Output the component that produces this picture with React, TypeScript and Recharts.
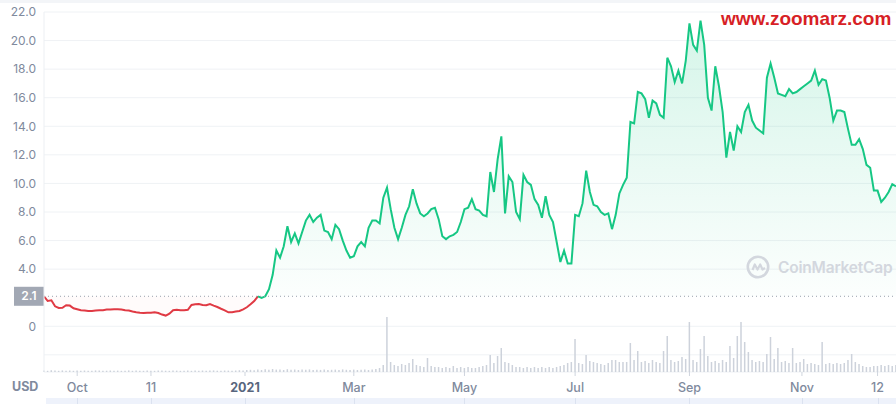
import React from "react";
import {
  ComposedChart,
  Area,
  Bar,
  XAxis,
  YAxis,
  CartesianGrid,
  ReferenceLine,
} from "recharts";

// price sampled every 2 days, starting mid Sep 2020
const PRICE = [
  2.1, 1.77, 1.82, 1.4, 1.28, 1.3, 1.47, 1.45, 1.26, 1.19,
  1.12, 1.1, 1.07, 1.07, 1.1, 1.12, 1.12, 1.17, 1.17, 1.19,
  1.19, 1.17, 1.12, 1.1, 1.03, 0.98, 0.95, 0.93, 0.95, 0.95,
  0.98, 0.93, 0.82, 0.75, 0.88, 1.12, 1.15, 1.12, 1.12, 1.15,
  1.49, 1.54, 1.56, 1.49, 1.47, 1.56, 1.45, 1.35, 1.23, 1.12,
  0.98, 0.99, 1.03, 1.07, 1.19, 1.33, 1.54, 1.77, 2.1, 1.98,
  2.1, 2.6, 3.6, 5.3, 4.8, 5.6, 7.0, 5.9, 6.5, 5.8,
  6.6, 7.4, 7.8, 7.3, 7.6, 7.8, 6.7, 6.6, 6.1, 7.1,
  6.8, 6.0, 5.3, 4.8, 4.9, 5.6, 5.9, 5.6, 6.9, 7.4,
  7.4, 7.2, 9.0, 9.7, 8.2, 6.9, 6.1, 6.9, 7.8, 8.4,
  9.6, 8.6, 7.9, 7.7, 7.9, 8.2, 8.3, 7.5, 6.3, 6.1,
  6.3, 6.4, 6.6, 7.3, 8.2, 8.3, 8.9, 8.2, 8.1, 7.8,
  7.7, 10.8, 9.4, 11.7, 13.3, 7.9, 10.5, 10.1, 8.0, 7.5,
  10.6, 10.1, 9.9, 8.9, 8.5, 7.6, 9.1, 7.8, 7.3, 5.9,
  4.5, 5.3, 4.4, 4.4, 7.8, 7.7, 8.6, 10.9, 9.4, 8.5,
  8.4, 8.0, 7.8, 7.9, 6.8, 7.8, 9.3, 9.9, 10.4, 14.3,
  14.2, 16.4, 16.3, 15.9, 14.6, 15.8, 15.6, 14.8, 14.6, 18.8,
  18.2, 17.1, 17.9, 17.0, 18.6, 21.2, 19.7, 19.3, 21.4, 19.7,
  16.0, 15.1, 18.2, 16.8, 15.0, 11.8, 13.6, 12.3, 14.0, 13.6,
  15.0, 15.5, 14.4, 13.9, 13.7, 13.5, 17.4, 18.4, 17.4, 16.3,
  16.2, 16.1, 16.6, 16.3, 16.4, 16.6, 16.8, 17.0, 17.2, 17.9,
  16.9, 17.3, 17.2, 16.0, 14.4, 15.1, 15.1, 15.0, 13.8, 12.7,
  12.7, 13.1, 12.4, 11.3, 11.1, 9.5, 9.5, 8.7, 9.0, 9.4,
  9.95, 9.8,
];

// traded volume, same sampling (USD, tens of thousands)
const VOLUME = [
  15, 12, 18, 14, 12, 16, 13, 15, 12, 14,
  12, 15, 13, 12, 16, 14, 12, 13, 15, 12,
  14, 12, 13, 16, 12, 14, 13, 12, 15, 13,
  12, 14, 16, 13, 12, 15, 14, 12, 13, 15,
  12, 14, 13, 15, 12, 14, 16, 13, 12, 15,
  14, 13, 15, 18, 16, 20, 22, 18, 25, 20,
  28, 22, 30, 24, 26, 20, 28, 22, 25, 20,
  24, 22, 26, 20, 23, 21, 25, 20, 22, 24,
  20, 26, 22, 21, 24, 20, 22, 25, 20, 24,
  30, 40, 70, 550, 100, 70, 60, 80, 70, 90,
  130, 70, 60, 50, 140, 60, 50, 50, 40, 50,
  40, 60, 40, 50, 40, 50, 40, 40, 50, 60,
  70, 170, 90, 160, 240, 100, 90, 70, 50, 50,
  40, 50, 40, 50, 40, 50, 40, 50, 40, 50,
  60, 70, 90, 100, 330, 90, 80, 170, 110, 100,
  90, 80, 70, 90, 120, 120, 100, 100, 100, 290,
  120, 210, 100, 110, 90, 120, 100, 90, 210, 360,
  120, 100, 110, 150, 130, 500, 120, 100, 230, 360,
  160, 100, 110, 90, 120, 100, 260, 140, 360, 500,
  300, 200, 120, 100, 110, 100, 180, 350, 130, 240,
  100, 110, 90, 240, 90, 100, 130, 80, 90, 80,
  70, 300, 80, 90, 80, 90, 80, 90, 120, 180,
  100, 80, 60, 50, 50, 60, 60, 70, 60, 70,
  60, 70,
];

const OPEN_PRICE = 2.1;
const RED_END = 58; // first sample back at the opening price
const DAY_STEP = 2;
const LAST_DAY = 462;

const TICK_DAYS = [18, 58, 109, 168, 228, 288, 350, 411, 452];
const TICK_LABELS = ["Oct", "11", "2021", "Mar", "May", "Jul", "Sep", "Nov", "12"];
const PRICE_TICKS = [-2, 0, 4, 6, 8, 10, 12, 14, 16, 18, 20, 22];

const data = PRICE.map((p, i) => ({
  day: i * DAY_STEP,
  red: i <= RED_END ? p : null,
  green: i >= RED_END ? p : null,
  vol: VOLUME[i],
}));

const W = 896;
const H = 404;
const AXIS_W = 44;
const FONT = "Inter, 'Noto Sans', sans-serif";
const GRAY = "#808a9d";

const dayToX = (d: number) => AXIS_W + (d / LAST_DAY) * (W - AXIS_W);

function XTick(props: any) {
  const { x, y, payload } = props;
  const label = TICK_LABELS[TICK_DAYS.indexOf(payload.value)];
  const strong = label === "2021";
  return (
    <text
      x={x}
      y={y}
      dy="0.71em"
      textAnchor="middle"
      fontSize={12.5}
      fontFamily={FONT}
      fontWeight={strong ? 700 : 500}
      fill={strong ? "#58667e" : GRAY}
    >
      {label}
    </text>
  );
}

function OpenTag(props: any) {
  const { viewBox } = props;
  const x = viewBox.x;
  const y = viewBox.y;
  return (
    <g>
      <rect x={x - 30} y={y - 9.5} width={30} height={19} fill="#a2a8b4" />
      <text
        x={x - 15}
        y={y}
        dy="0.35em"
        textAnchor="middle"
        fontSize={12}
        fontFamily={FONT}
        fontWeight={600}
        fill="#fff"
      >
        {OPEN_PRICE}
      </text>
    </g>
  );
}

export default function App() {
  return (
    <div
      style={{
        position: "absolute",
        left: 0,
        top: 0,
        width: W,
        height: H,
        background: "#fff",
        overflow: "hidden",
        fontFamily: FONT,
      }}
    >
      <div style={{ position: "absolute", left: 0, top: 0, width: W, height: 3, background: "#f3f5f8" }} />

      <ComposedChart
        width={W}
        height={H}
        data={data}
        margin={{ top: 12, right: 0, bottom: 0, left: 0 }}
      >
        <defs>
          <linearGradient id="greenFill" x1="0" y1="0" x2="0" y2="1">
            <stop offset="0%" stopColor="#16c784" stopOpacity={0.3} />
            <stop offset="100%" stopColor="#16c784" stopOpacity={0.02} />
          </linearGradient>
        </defs>
        <CartesianGrid vertical={false} stroke="#eff2f5" />
        <XAxis
          dataKey="day"
          type="number"
          domain={[0, LAST_DAY]}
          ticks={TICK_DAYS}
          interval={0}
          height={32}
          axisLine={false}
          tickLine={{ stroke: "#cfd5de" }}
          tickSize={4}
          tickMargin={7}
          tick={<XTick />}
        />
        <YAxis
          type="number"
          domain={[-3.2, 22]}
          ticks={PRICE_TICKS}
          width={AXIS_W}
          axisLine={{ stroke: "#eceff3" }}
          tickLine={false}
          tick={{ fill: GRAY, fontSize: 12, fontFamily: FONT }}
          tickFormatter={(v: number) => (v < 0 ? "" : v === 0 ? "0" : v.toFixed(1))}
        />
        <YAxis yAxisId="vol" hide domain={[0, 3600]} />
        <Bar
          yAxisId="vol"
          dataKey="vol"
          fill="#cdd2db"
          barSize={1.5}
          isAnimationActive={false}
        />
        <ReferenceLine
          y={OPEN_PRICE}
          stroke="#9aa1ad"
          strokeDasharray="1 3"
          label={OpenTag}
        />
        <Area
          type="linear"
          dataKey="red"
          baseValue={OPEN_PRICE}
          stroke="#e03a44"
          strokeWidth={2}
          fill="rgba(234,57,67,0.035)"
          dot={false}
          activeDot={false}
          isAnimationActive={false}
        />
        <Area
          type="linear"
          dataKey="green"
          baseValue={OPEN_PRICE}
          stroke="#16c784"
          strokeWidth={2}
          fill="url(#greenFill)"
          dot={false}
          activeDot={false}
          isAnimationActive={false}
        />
      </ComposedChart>

      <div
        style={{
          position: "absolute",
          left: 721,
          top: 9,
          fontFamily: "'Liberation Sans', Arial, sans-serif",
          fontWeight: 700,
          fontSize: 19,
          lineHeight: "19px",
          color: "#d71f26",
        }}
      >
        www.zoomarz.com
      </div>

      <div style={{ position: "absolute", left: 746, top: 255, display: "flex", alignItems: "center", gap: 8 }}>
        <svg width={24} height={24} viewBox="0 0 24 24">
          <circle cx={12} cy={12} r={10.2} fill="none" stroke="#d3d7de" strokeWidth={2.6} />
          <path d="M6.5 15 L8.8 9.5 L11.5 14.5 L14.2 9.5 L16.5 14.5 L19 13" fill="none" stroke="#d3d7de" strokeWidth={2.2} strokeLinejoin="round" />
        </svg>
        <span style={{ fontSize: 15.5, fontWeight: 600, color: "#d3d7de", letterSpacing: -0.2 }}>CoinMarketCap</span>
      </div>

      <div style={{ position: "absolute", left: 12, top: 379, fontSize: 12.5, fontWeight: 700, color: GRAY }}>USD</div>

      <div style={{ position: "absolute", left: 46, top: 398, width: W - 46, height: 6, background: "#eef2fb" }}>
        {TICK_DAYS.map((d) => (
          <div
            key={d}
            style={{ position: "absolute", left: dayToX(d) - 46, top: 0, width: 1, height: 6, background: "#dbe2f0" }}
          />
        ))}
      </div>
    </div>
  );
}
